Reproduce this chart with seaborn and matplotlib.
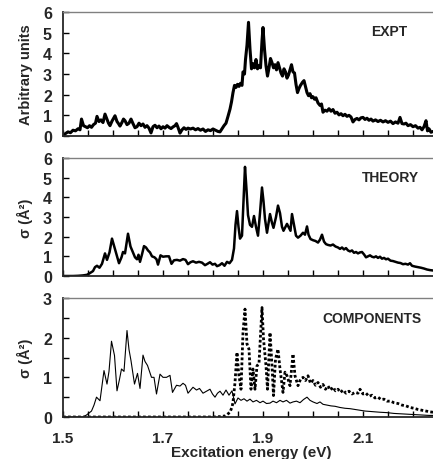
import numpy as np
import pandas as pd
import matplotlib
matplotlib.use("Agg")
import matplotlib.pyplot as plt
from matplotlib.ticker import MultipleLocator
import seaborn as sns

# ---- measured spectrum (arbitrary units) ----
expt_e = [1.500, 1.505, 1.510, 1.515, 1.520, 1.525, 1.530, 1.534, 1.537, 1.541,
          1.545, 1.549, 1.553, 1.557, 1.561, 1.565, 1.568, 1.572, 1.576, 1.580,
          1.584, 1.588, 1.591, 1.594, 1.598, 1.601, 1.604, 1.608, 1.611, 1.614,
          1.618, 1.621, 1.624, 1.628, 1.632, 1.636, 1.640, 1.644, 1.648, 1.652,
          1.656, 1.660, 1.664, 1.668, 1.672, 1.676, 1.680, 1.684, 1.688, 1.692,
          1.696, 1.700, 1.704, 1.708, 1.712, 1.716, 1.720, 1.724, 1.727, 1.730,
          1.734, 1.738, 1.742, 1.746, 1.750, 1.755, 1.760, 1.765, 1.770, 1.775,
          1.780, 1.785, 1.790, 1.795, 1.800, 1.805, 1.810, 1.814, 1.818, 1.822,
          1.826, 1.830, 1.834, 1.837, 1.840, 1.843, 1.846, 1.849, 1.852, 1.855,
          1.858, 1.860, 1.863, 1.865, 1.868, 1.871, 1.874, 1.877, 1.880, 1.883,
          1.886, 1.889, 1.892, 1.895, 1.898, 1.900, 1.903, 1.906, 1.909, 1.912,
          1.915, 1.918, 1.921, 1.924, 1.927, 1.930, 1.933, 1.936, 1.939, 1.942,
          1.945, 1.948, 1.951, 1.954, 1.957, 1.960, 1.963, 1.966, 1.969, 1.972,
          1.975, 1.979, 1.982, 1.985, 1.988, 1.991, 1.994, 1.997, 2.000, 2.003,
          2.006, 2.010, 2.014, 2.017, 2.020, 2.024, 2.028, 2.032, 2.036, 2.040,
          2.044, 2.048, 2.052, 2.056, 2.060, 2.064, 2.068, 2.072, 2.076, 2.080,
          2.084, 2.088, 2.092, 2.096, 2.100, 2.104, 2.108, 2.112, 2.116, 2.120,
          2.125, 2.130, 2.135, 2.140, 2.145, 2.150, 2.155, 2.160, 2.165, 2.170,
          2.174, 2.178, 2.182, 2.186, 2.190, 2.195, 2.200, 2.205, 2.210, 2.214,
          2.218, 2.222, 2.226, 2.229, 2.232, 2.236, 2.240]
expt_v = [0.00, 0.12, 0.20, 0.16, 0.28, 0.25, 0.35, 0.30, 0.82, 0.50,
          0.45, 0.40, 0.50, 0.42, 0.55, 0.62, 0.95, 0.70, 0.78, 0.65,
          1.06, 0.80, 0.62, 0.50, 0.72, 0.85, 0.98, 0.70, 0.60, 0.48,
          0.66, 0.82, 0.74, 0.55, 0.62, 0.82, 0.60, 0.40, 0.45, 0.62,
          0.50, 0.58, 0.42, 0.50, 0.38, 0.15, 0.45, 0.52, 0.40, 0.48,
          0.35, 0.45, 0.38, 0.50, 0.42, 0.36, 0.44, 0.50, 0.60, 0.42,
          0.14, 0.30, 0.40, 0.32, 0.38, 0.34, 0.38, 0.30, 0.36, 0.28,
          0.34, 0.22, 0.30, 0.26, 0.34, 0.28, 0.22, 0.20, 0.35, 0.50,
          0.62, 0.95, 1.30, 1.65, 2.10, 2.45, 2.35, 2.50, 2.40, 2.55,
          2.45, 3.10, 3.00, 3.70, 4.40, 5.50, 4.20, 3.25, 3.50, 3.30,
          3.70, 3.25, 3.40, 3.30, 4.60, 5.25, 4.20, 3.40, 2.90, 3.30,
          3.75, 3.55, 3.30, 3.45, 3.20, 3.55, 3.30, 3.05, 2.90, 3.25,
          3.10, 2.80, 2.95, 3.20, 3.45, 3.10, 3.05, 2.50, 2.10, 2.30,
          2.45, 2.60, 2.68, 2.40, 2.10, 1.95, 2.05, 1.85, 1.90, 1.78,
          1.85, 1.60, 1.48, 1.55, 1.15, 1.25, 1.20, 1.32, 1.20, 1.28,
          1.10, 1.15, 1.02, 1.08, 0.98, 1.05, 0.95, 1.00, 0.92, 0.68,
          0.80, 0.85, 0.78, 0.88, 0.90, 0.80, 0.86, 0.76, 0.82, 0.72,
          0.78, 0.70, 0.76, 0.68, 0.74, 0.66, 0.72, 0.60, 0.68, 0.62,
          0.90, 0.60, 0.58, 0.62, 0.50, 0.55, 0.45, 0.50, 0.38, 0.42,
          0.30, 0.45, 0.74, 0.25, 0.35, 0.18, 0.22]

# ---- calculated cross section (Å²) ----
theory_e = [1.500, 1.520, 1.530, 1.540, 1.548, 1.554, 1.560, 1.564, 1.568, 1.573,
            1.578, 1.584, 1.588, 1.593, 1.598, 1.603, 1.608, 1.612, 1.617, 1.620,
            1.624, 1.630, 1.635, 1.640, 1.644, 1.648, 1.651, 1.654, 1.658, 1.662,
            1.666, 1.670, 1.674, 1.678, 1.683, 1.687, 1.690, 1.695, 1.700, 1.706,
            1.712, 1.717, 1.722, 1.728, 1.734, 1.740, 1.745, 1.750, 1.755, 1.760,
            1.766, 1.772, 1.778, 1.784, 1.789, 1.794, 1.799, 1.804, 1.808, 1.813,
            1.818, 1.823, 1.828, 1.833, 1.838, 1.842, 1.845, 1.848, 1.851, 1.854,
            1.858, 1.861, 1.864, 1.867, 1.870, 1.874, 1.878, 1.882, 1.886, 1.890,
            1.894, 1.898, 1.901, 1.904, 1.908, 1.914, 1.918, 1.921, 1.926, 1.930,
            1.934, 1.938, 1.941, 1.944, 1.948, 1.952, 1.955, 1.958, 1.962, 1.966,
            1.970, 1.975, 1.980, 1.984, 1.988, 1.991, 1.995, 2.000, 2.005, 2.010,
            2.014, 2.018, 2.022, 2.026, 2.030, 2.035, 2.040, 2.045, 2.050, 2.054,
            2.058, 2.062, 2.066, 2.070, 2.074, 2.078, 2.082, 2.086, 2.090, 2.094,
            2.098, 2.102, 2.106, 2.110, 2.114, 2.118, 2.122, 2.126, 2.130, 2.134,
            2.138, 2.142, 2.146, 2.150, 2.155, 2.160, 2.165, 2.170, 2.175, 2.180,
            2.185, 2.190, 2.194, 2.198, 2.204, 2.210, 2.216, 2.222, 2.228, 2.234,
            2.240]
theory_v = [0.00, 0.00, 0.01, 0.03, 0.06, 0.15, 0.25, 0.45, 0.52, 0.42,
            0.62, 1.15, 0.82, 1.20, 1.90, 1.45, 1.00, 0.65, 0.95, 1.22,
            1.15, 2.15, 1.50, 1.20, 0.95, 0.85, 1.08, 0.72, 1.10, 1.52,
            1.45, 1.30, 1.20, 1.00, 0.95, 0.85, 0.58, 1.05, 0.98, 1.00,
            1.00, 0.62, 0.80, 0.82, 0.78, 0.86, 0.82, 0.60, 0.70, 0.75,
            0.68, 0.72, 0.68, 0.55, 0.62, 0.70, 0.58, 0.62, 0.50, 0.55,
            0.65, 0.52, 0.72, 0.65, 0.82, 1.40, 2.60, 3.30, 2.50, 1.90,
            2.05, 3.80, 5.55, 4.40, 3.10, 2.60, 2.50, 3.05, 2.50, 2.05,
            3.20, 4.50, 3.80, 2.90, 2.20, 3.15, 2.70, 2.45, 3.00, 3.58,
            3.20, 2.50, 2.30, 2.45, 2.65, 2.45, 2.30, 3.15, 2.60, 2.05,
            1.95, 2.05, 2.20, 2.10, 2.52, 2.10, 1.88, 1.82, 1.78, 1.70,
            1.85, 2.10, 1.75, 1.62, 1.58, 1.55, 1.60, 1.50, 1.45, 1.38,
            1.45, 1.35, 1.42, 1.30, 1.25, 1.30, 1.18, 1.22, 1.15, 1.20,
            1.22, 1.10, 0.95, 1.00, 1.05, 0.98, 0.95, 1.00, 0.92, 0.98,
            0.88, 0.92, 0.85, 0.88, 0.78, 0.76, 0.72, 0.68, 0.66, 0.60,
            0.62, 0.58, 0.65, 0.52, 0.48, 0.45, 0.42, 0.38, 0.33, 0.30,
            0.28]

# ---- component 1 (thin solid) ----
comp1_e = [1.500, 1.540, 1.547, 1.557, 1.562, 1.567, 1.574, 1.582, 1.588, 1.592,
           1.597, 1.603, 1.608, 1.613, 1.617, 1.622, 1.628, 1.632, 1.636, 1.643,
           1.649, 1.654, 1.660, 1.664, 1.669, 1.673, 1.677, 1.682, 1.687, 1.694,
           1.700, 1.707, 1.714, 1.719, 1.727, 1.734, 1.740, 1.745, 1.750, 1.760,
           1.767, 1.773, 1.780, 1.787, 1.794, 1.799, 1.804, 1.809, 1.814, 1.820,
           1.826, 1.832, 1.838, 1.844, 1.850, 1.856, 1.862, 1.868, 1.874, 1.880,
           1.887, 1.894, 1.900, 1.907, 1.914, 1.920, 1.927, 1.934, 1.940, 1.947,
           1.954, 1.960, 1.967, 1.974, 1.981, 1.988, 1.994, 2.000, 2.008, 2.014,
           2.020, 2.028, 2.036, 2.044, 2.054, 2.064, 2.074, 2.084, 2.094, 2.104,
           2.114, 2.124, 2.134, 2.148, 2.162, 2.176, 2.190, 2.204, 2.218, 2.232,
           2.240]
comp1_v = [0.00, 0.00, 0.05, 0.15, 0.30, 0.50, 0.41, 1.17, 0.83, 1.15,
           1.91, 1.55, 0.66, 0.95, 1.21, 1.15, 2.18, 1.70, 1.42, 0.83,
           1.10, 0.72, 1.56, 1.40, 1.30, 1.15, 1.00, 1.00, 0.58, 1.08,
           1.00, 1.00, 1.05, 0.62, 0.80, 0.78, 0.85, 0.80, 0.60, 0.75,
           0.68, 0.72, 0.60, 0.65, 0.70, 0.58, 0.50, 0.60, 0.65, 0.55,
           0.68, 0.55, 0.66, 0.33, 0.48, 0.42, 0.46, 0.40, 0.45, 0.38,
           0.42, 0.36, 0.40, 0.34, 0.35, 0.40, 0.36, 0.42, 0.38, 0.42,
           0.35, 0.38, 0.40, 0.36, 0.44, 0.50, 0.42, 0.38, 0.34, 0.38,
           0.32, 0.30, 0.28, 0.27, 0.24, 0.22, 0.21, 0.19, 0.17, 0.15,
           0.14, 0.13, 0.12, 0.11, 0.09, 0.08, 0.07, 0.06, 0.05, 0.04,
           0.04]

# ---- component 2 (thick dotted) ----
comp2_e = [1.500, 1.800, 1.815, 1.825, 1.830, 1.834, 1.838, 1.840, 1.844, 1.848,
           1.851, 1.856, 1.860, 1.864, 1.868, 1.872, 1.876, 1.880, 1.884, 1.888,
           1.892, 1.898, 1.901, 1.906, 1.909, 1.914, 1.918, 1.921, 1.925, 1.930,
           1.934, 1.940, 1.944, 1.948, 1.954, 1.960, 1.964, 1.970, 1.975, 1.980,
           1.985, 1.990, 1.995, 2.000, 2.005, 2.010, 2.015, 2.020, 2.025, 2.030,
           2.035, 2.040, 2.045, 2.050, 2.055, 2.060, 2.066, 2.072, 2.078, 2.084,
           2.090, 2.094, 2.100, 2.106, 2.112, 2.118, 2.124, 2.130, 2.136, 2.142,
           2.148, 2.155, 2.162, 2.170, 2.178, 2.186, 2.194, 2.202, 2.210, 2.218,
           2.226, 2.234, 2.240]
comp2_v = [0.00, 0.00, 0.01, 0.03, 0.08, 0.12, 0.25, 0.37, 0.87, 1.63,
           1.13, 0.70, 2.13, 2.72, 1.84, 1.71, 0.70, 1.21, 0.70, 1.29,
           1.35, 2.76, 1.97, 1.29, 0.70, 2.13, 1.29, 0.54, 1.46, 1.71,
           1.21, 0.62, 1.13, 1.04, 0.79, 1.59, 1.04, 0.79, 0.95, 1.00,
           0.92, 1.04, 0.85, 0.92, 0.80, 0.87, 0.75, 0.82, 0.70, 0.78,
           0.68, 0.75, 0.66, 0.70, 0.62, 0.68, 0.60, 0.65, 0.58, 0.62,
           0.60, 0.70, 0.58, 0.60, 0.52, 0.55, 0.48, 0.50, 0.44, 0.45,
           0.40, 0.40, 0.36, 0.34, 0.30, 0.28, 0.24, 0.22, 0.19, 0.17,
           0.15, 0.13, 0.12]

panel_labels = ["EXPT", "THEORY", "COMPONENTS"]
y_labels = ["Arbitrary units", "σ (Å²)", "σ (Å²)"]
x_label = "Excitation energy (eV)"

sns.set_style("ticks")
plt.rcParams["font.family"] = ["Liberation Sans", "DejaVu Sans"]
plt.rcParams["font.weight"] = "bold"

W, H = 433, 460
fig = plt.figure(figsize=(W / 100, H / 100), dpi=100)


def px_axes(top, bottom, left=63, right=433):
    return fig.add_axes([left / W, 1 - bottom / H, (right - left) / W, (bottom - top) / H])


ax1 = px_axes(13, 137)
ax2 = px_axes(159, 277)
ax3 = px_axes(299, 418)

df_expt = pd.DataFrame({"E": expt_e, "v": expt_v})
df_theory = pd.DataFrame({"E": theory_e, "v": theory_v})
df_c1 = pd.DataFrame({"E": comp1_e, "v": comp1_v})
df_c2 = pd.DataFrame({"E": comp2_e, "v": comp2_v})

sns.lineplot(data=df_expt, x="E", y="v", ax=ax1, color="black", lw=2.2,
             estimator=None, sort=False)
sns.lineplot(data=df_theory, x="E", y="v", ax=ax2, color="black", lw=1.8,
             estimator=None, sort=False)
sns.lineplot(data=df_c1, x="E", y="v", ax=ax3, color="black", lw=0.8,
             estimator=None, sort=False)
sns.lineplot(data=df_c2, x="E", y="v", ax=ax3, color="black", lw=2.0,
             linestyle=(0, (1, 0.8)), estimator=None, sort=False)

limits = [(0, 6), (0, 6), (0, 3)]
text_pos = [(0.881, 0.847), (0.886, 0.839), (0.835, 0.832)]
for ax, (lo, hi), lab, yl, (tx, ty) in zip([ax1, ax2, ax3], limits, panel_labels,
                                           y_labels, text_pos):
    ax.set_xlim(1.5, 2.24)
    ax.set_ylim(lo, hi)
    ax.xaxis.set_major_locator(MultipleLocator(0.2))
    ax.xaxis.set_minor_locator(MultipleLocator(0.05))
    ax.yaxis.set_major_locator(MultipleLocator(1))
    if hi == 3:
        ax.yaxis.set_minor_locator(MultipleLocator(0.5))
    ax.tick_params(axis="both", which="both", direction="in", color="black")
    ax.tick_params(axis="x", which="major", length=4, width=1, pad=10, labelsize=11)
    ax.tick_params(axis="x", which="minor", length=4, width=1)
    ax.tick_params(axis="y", which="major", length=4, width=1, pad=8, labelsize=11.5)
    ax.tick_params(axis="y", which="minor", length=4, width=1)
    for t in ax.get_xticklabels() + ax.get_yticklabels():
        t.set_fontweight("bold")
    ax.spines["right"].set_visible(False)
    ax.spines["top"].set_color("#808080")
    ax.spines["top"].set_linewidth(1.0)
    ax.spines["left"].set_linewidth(1.3)
    ax.spines["bottom"].set_linewidth(1.3)
    ax.set_xlabel("")
    ax.set_ylabel(yl, fontsize=10.5, fontweight="bold")
    ax.yaxis.set_label_coords(-0.08, 0.5)
    ax.text(tx, ty, lab, transform=ax.transAxes, ha="center", va="center",
            fontsize=10, fontweight="bold")

ax1.tick_params(axis="x", labelbottom=False)
ax2.tick_params(axis="x", labelbottom=False)
ax3.set_xticks([1.5, 1.7, 1.9, 2.1])
ax3.set_xticklabels(["1.5", "1.7", "1.9", "2.1"], fontweight="bold")

fig.text(251 / W, 1 - 446 / H, x_label, ha="center", va="top",
         fontsize=11, fontweight="bold")

fig.savefig("out.png", dpi=100)
